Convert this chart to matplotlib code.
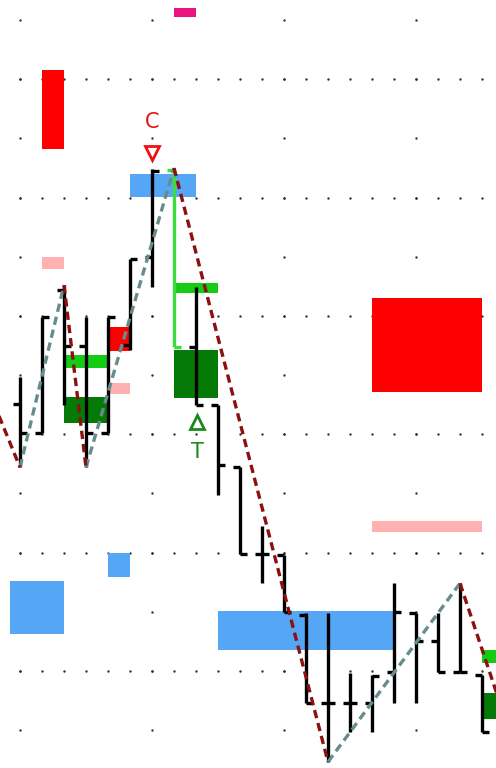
import numpy as np
import matplotlib.pyplot as plt
from matplotlib.patches import Rectangle

# OHLC bars (bar index = position on x)
opens  = [155.1, 150.2, 174.4, 164.9, 150.2, 165.1, 179.9, 194.6, 164.7, 154.9, 144.4,
          129.7, 129.6, 119.4, 104.6, 104.6, 104.6, 109.8, 119.8, 115.0, 109.8, 109.3]
highs  = [159.7, 169.8, 175.2, 169.8, 169.8, 179.6, 194.8, 195.0, 174.9, 154.9, 144.4,
          134.5, 129.6, 119.8, 119.8, 109.6, 109.3, 124.8, 119.8, 119.8, 124.8, 109.3]
lows   = [144.4, 150.2, 154.9, 144.4, 150.2, 164.2, 174.9, 164.7, 154.9, 139.7, 129.7,
          124.8, 119.9, 104.6, 94.6, 99.7, 99.7, 104.6, 104.6, 109.8, 109.8, 99.7]
closes = [150.2, 169.8, 164.9, 150.2, 169.8, 179.6, 194.5, 164.7, 154.9, 144.8, 129.7,
          129.7, 119.9, 104.6, 104.6, 104.6, 109.1, 119.9, 115.0, 109.8, 109.8, 99.7]
signal_bar = 7

# zigzag swings
up_legs = [((0, 144.4), (2, 175.2)), ((3, 144.4), (7, 195.0)), ((14, 94.6), (20, 124.8))]
down_legs = [((-1, 153.5), (0, 144.4)), ((2, 175.2), (3, 144.4)),
             ((7, 195.0), (14, 94.6)), ((20, 124.8), (22, 102.5))]

# zones: (x_from, x_to, low, high)
red_zones = [(1, 2, 198.2, 211.5), (4, 5, 164.1, 168.1), (16, 21, 157.1, 173.0)]
pink_zones = [(1, 2, 177.9, 179.9), (4, 5, 156.8, 158.6), (16, 21, 133.5, 135.3)]
blue_zones = [(5, 8, 190.1, 194.0), (9, 17, 113.5, 120.1), (4, 5, 125.9, 129.9),
              (-0.45, 2, 116.2, 125.2)]
magenta_zones = [(7, 8, 220.5, 222.0)]
lgreen_zones = [(2, 4, 161.2, 163.4), (7, 9, 173.9, 175.5), (21, 22, 111.3, 113.5)]
dgreen_zones = [(2, 4, 151.9, 156.3), (7, 9, 156.1, 164.2), (21, 22, 101.9, 106.3)]

fig = plt.figure(figsize=(4.96, 7.68), dpi=100)
ax = fig.add_axes([0, 0, 1, 1])
ax.set_xlim(-0.909, 21.636)
ax.set_ylim(93.58, 223.4)
ax.axis('off')

# dotted grid
xs = np.arange(0, 22)
for p in np.arange(110, 220, 20):
    ax.scatter(xs, np.full(len(xs), p), s=3, color='#333333', lw=0, zorder=1)
for k in [0, 6, 12, 18]:
    ps = np.arange(100, 221, 10)
    ax.scatter(np.full(len(ps), k), ps, s=3, color='#333333', lw=0, zorder=1)

zone_sets = [(red_zones, '#ff0000'), (pink_zones, '#ffb0b0'), (blue_zones, '#55a6f5'),
             (magenta_zones, '#e8157f'), (lgreen_zones, '#14cc14'),
             (dgreen_zones, '#067a06')]
for zones, col in zone_sets:
    for x0, x1, lo, hi in zones:
        ax.add_patch(Rectangle((x0, lo), x1 - x0, hi - lo, color=col, lw=0, zorder=2))

# bars
tick = 0.32
for i in range(len(opens)):
    col = '#3ddc3d' if i == signal_bar else 'black'
    ax.vlines(i, lows[i], highs[i], color=col, lw=2.4, zorder=3)
    ax.hlines(opens[i], i - tick, i, color=col, lw=2.4, zorder=3)
    ax.hlines(closes[i], i, i + tick, color=col, lw=2.4, zorder=3)

for (x0, y0), (x1, y1) in up_legs:
    ax.plot([x0, x1], [y0, y1], color='#668c8c', lw=2.4, ls=(0, (2.5, 1.5)), zorder=4)
for (x0, y0), (x1, y1) in down_legs:
    ax.plot([x0, x1], [y0, y1], color='#8b1010', lw=2.4, ls=(0, (2.5, 1.5)), zorder=4)

# pattern labels
ax.text(6, 202.8, 'C', color='#ee1111', fontsize=15, ha='center', va='center', zorder=5)
ax.plot(6, 197.6, marker='v', ms=10, mfc='none', mec='#ee1111', mew=2, zorder=5)
ax.plot(8.05, 152.0, marker='^', ms=10, mfc='none', mec='#1a8a1a', mew=2, zorder=5)
ax.text(8.05, 147.0, 'T', color='#1a8a1a', fontsize=15, ha='center', va='center', zorder=5)

fig.savefig('out.png', dpi=100)
